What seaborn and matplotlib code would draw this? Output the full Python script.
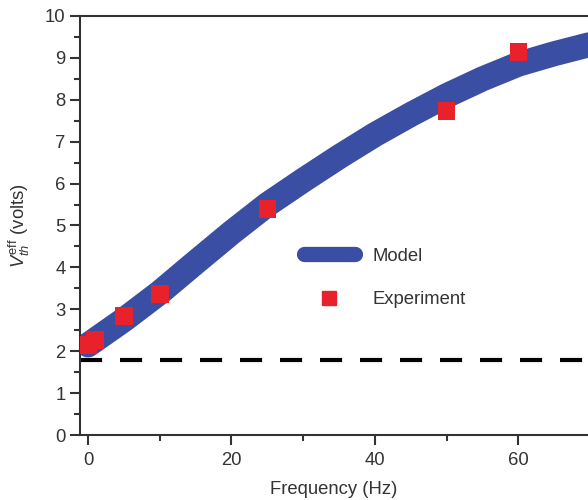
import matplotlib
matplotlib.use("Agg")
import matplotlib.pyplot as plt
import seaborn as sns
import pandas as pd
from matplotlib.ticker import MultipleLocator
from matplotlib.lines import Line2D

sns.set_theme(style="white")
plt.rcParams['font.family'] = ['Liberation Sans', 'DejaVu Sans']
plt.rcParams['mathtext.fontset'] = 'custom'
plt.rcParams['mathtext.rm'] = 'Liberation Sans'
plt.rcParams['mathtext.it'] = 'Liberation Sans:italic'

# Model curve
model_freq = [0, 5, 10, 15, 20, 25, 30, 35, 40, 45, 50, 55, 60, 65, 70]
model_v = [2.15, 2.75, 3.4, 4.12, 4.83, 5.5, 6.08, 6.64, 7.17, 7.65, 8.1, 8.5, 8.85, 9.1, 9.32]

# Experiment points
exp_freq = [0, 1, 5, 10, 25, 50, 60]
exp_v = [2.15, 2.27, 2.84, 3.37, 5.39, 7.73, 9.14]

threshold = 1.8

model_df = pd.DataFrame({"freq": model_freq, "v": model_v})
exp_df = pd.DataFrame({"freq": exp_freq, "v": exp_v})

blue = "#3a4fa3"
red = "#e8212b"
dark = "#333333"
fs = 13.3

fig = plt.figure(figsize=(5.88, 5.0), dpi=100)
ax = fig.add_axes([80/588, 65/500, 1 - 80/588, (435-16)/500])

sns.lineplot(data=model_df, x="freq", y="v", ax=ax, color=blue, lw=18,
             solid_capstyle="round", solid_joinstyle="round", zorder=2)
ax.axhline(threshold, color="black", lw=3, dashes=(5.3, 4.3), zorder=1)
sns.scatterplot(data=exp_df, x="freq", y="v", ax=ax, marker="s", s=160,
                color=red, edgecolor="none", linewidth=0, zorder=3)

ax.set_xlim(-1.12, 69.7)
ax.set_ylim(0, 10)
ax.xaxis.set_major_locator(MultipleLocator(20))
ax.xaxis.set_minor_locator(MultipleLocator(10))
ax.yaxis.set_major_locator(MultipleLocator(1))
ax.yaxis.set_minor_locator(MultipleLocator(0.5))
ax.tick_params(which="major", direction="out", length=7, width=1.5, color=dark,
               labelsize=fs, labelcolor=dark, left=True, bottom=True)
ax.tick_params(which="minor", direction="out", length=4, width=1.5, color=dark,
               left=True, bottom=True)
ax.tick_params(axis="x", which="major", pad=5)

for side in ["left", "bottom", "top"]:
    ax.spines[side].set_visible(True)
    ax.spines[side].set_color(dark)
    ax.spines[side].set_linewidth(1.5)
ax.spines["right"].set_visible(False)

ax.set_xlabel("Frequency (Hz)", fontsize=fs, color=dark, labelpad=9)
ax.set_ylabel(r"$V_{th}^{\mathrm{eff}}$ (volts)", fontsize=fs, color=dark, labelpad=9)

handles = [
    Line2D([0], [0], color=blue, lw=11, solid_capstyle="round"),
    Line2D([0], [0], color=red, marker="s", markersize=10, linestyle="none"),
]
ax.legend(handles, ["Model", "Experiment"], frameon=False, fontsize=fs,
          handlelength=2.8, handletextpad=0.94, labelspacing=1.43,
          loc="upper left", bbox_to_anchor=(207/508, (435-231)/419),
          labelcolor=dark)

fig.savefig("out.png", dpi=100)
